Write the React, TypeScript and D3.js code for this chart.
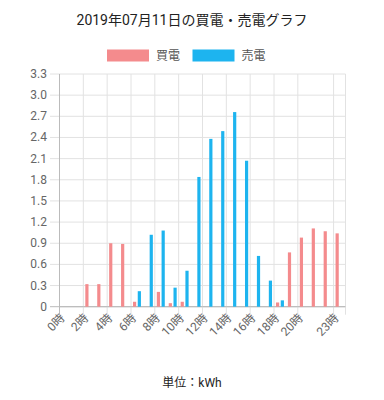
import React from "react";
import * as d3 from "d3";

const hours: number[] = d3.range(24);
const hourLabels: string[] = hours.map((h) => `${h}時`);
const shownTicks: number[] = [0, 2, 4, 6, 8, 10, 12, 14, 16, 18, 20, 23];
const buyValues: number[] = [0, 0, 0.32, 0.32, 0.9, 0.89, 0.07, 0, 0.21, 0.05, 0.07, 0, 0, 0, 0, 0, 0, 0, 0.06, 0.77, 0.98, 1.11, 1.07, 1.04];
const sellValues: number[] = [0, 0, 0, 0, 0, 0, 0.22, 1.02, 1.08, 0.27, 0.51, 1.84, 2.38, 2.49, 2.76, 2.07, 0.72, 0.37, 0.09, 0, 0, 0, 0, 0];
const yTicks: number[] = d3.range(0, 12).map((i) => Math.round(i * 3) / 10);
const seriesNames: string[] = ["買電", "売電"];
const titleText = "2019年07月11日の買電・売電グラフ";
const unitText = "単位：kWh";

const W = 384;
const H = 400;
const left = 59.5;
const right = 345.5;
const top = 74;
const bottom = 306.7;
const colors = ["#f48b8d", "#1db4ef"];
const FONT = "Roboto, 'Noto Sans CJK JP', sans-serif";

export default function App() {
  const x = d3.scaleBand<number>().domain(hours).range([left, right]).paddingInner(0).paddingOuter(0);
  const bw = x.bandwidth();
  const group = d3.scaleBand<number>().domain([0, 1]).range([bw * 0.1, bw * 0.9]);
  const barW = 3.2;
  const y = d3.scaleLinear().domain([0, 3.3]).range([bottom, top]);
  const series = [buyValues, sellValues];

  return (
    <svg width={W} height={H} style={{ position: "absolute", left: 0, top: 0, background: "#fff" }}>
      <text x={192} y={25} textAnchor="middle" fontFamily={FONT} fontSize={14} fill="#222">
        {titleText}
      </text>
      {/* legend */}
      {seriesNames.map((n, i) => {
        const lx = i === 0 ? 107 : 192.5;
        return (
          <g key={n}>
            <rect x={lx} y={49.5} width={42} height={12} fill={colors[i]} />
            <text x={lx + 49} y={60} fontFamily={FONT} fontSize={12} fill="#555">
              {n}
            </text>
          </g>
        );
      })}
      {/* horizontal grid */}
      {yTicks.map((t) => (
        <g key={t}>
          <line x1={50} x2={right} y1={y(t)} y2={y(t)} stroke={t === 0 ? "#bbb" : "#e2e2e2"} strokeWidth={1} />
          <text x={47} y={y(t) + 4} textAnchor="end" fontFamily={FONT} fontSize={12} fill="#666">
            {t === 0 ? "0" : t.toFixed(1)}
          </text>
        </g>
      ))}
      {/* vertical grid */}
      {shownTicks.map((h) => (
        <line key={h} x1={x(h)!} x2={x(h)!} y1={top} y2={bottom + 8} stroke={h === 0 ? "#bbb" : "#e2e2e2"} strokeWidth={1} />
      ))}
      <line x1={right} x2={right} y1={top} y2={bottom + 8} stroke="#e2e2e2" strokeWidth={1} />
      <line x1={left} x2={left} y1={top} y2={bottom + 8} stroke="#bbb" strokeWidth={1} />
      <line x1={left} x2={right} y1={bottom} y2={bottom} stroke="#bbb" strokeWidth={1} />
      {/* bars */}
      {series.map((vals, si) =>
        vals.map((v, h) =>
          v > 0 ? (
            <rect
              key={`${si}-${h}`}
              x={x(h)! + group(si)! + group.bandwidth() / 2 - barW / 2}
              y={y(v)}
              width={barW}
              height={y(0) - y(v)}
              fill={colors[si]}
            />
          ) : null
        )
      )}
      {/* x labels */}
      {shownTicks.map((h) => {
        const cx = x(h)! + bw / 2;
        return (
          <text
            key={h}
            transform={`translate(${cx},${bottom + 12}) rotate(-45)`}
            textAnchor="end"
            fontFamily={FONT}
            fontSize={12}
            fill="#666"
          >
            {hourLabels[h]}
          </text>
        );
      })}
      <text x={192} y={387} textAnchor="middle" fontFamily={FONT} fontSize={12} fill="#222">
        {unitText}
      </text>
    </svg>
  );
}
